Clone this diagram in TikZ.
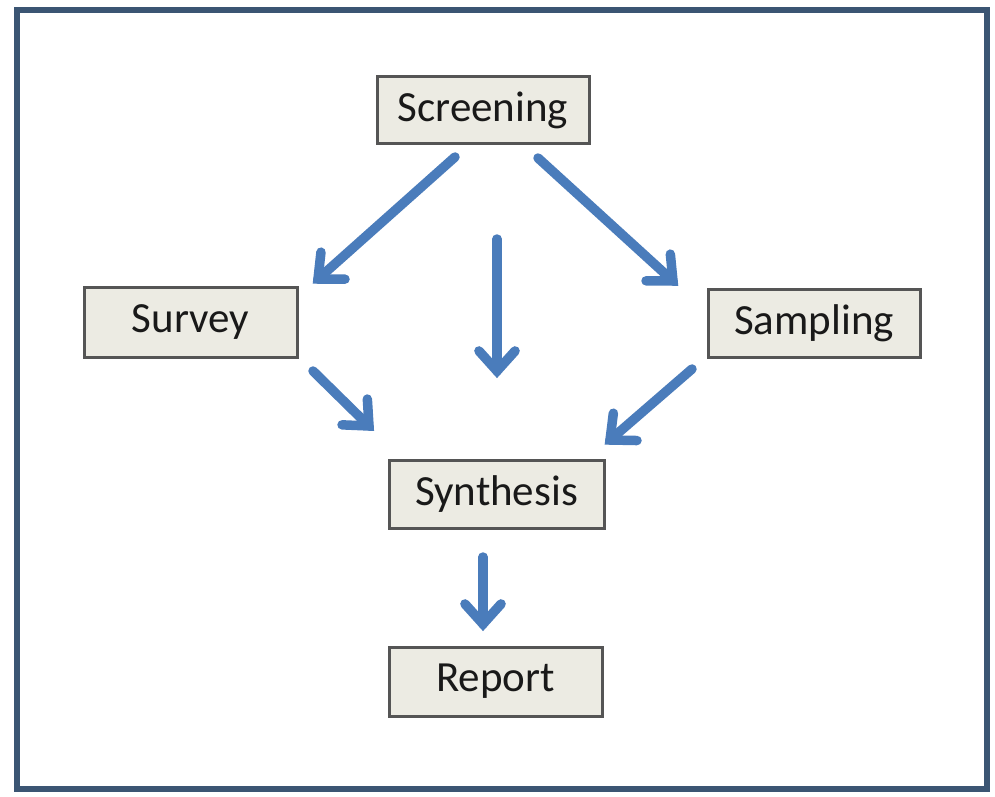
\documentclass[tikz,border=0pt]{standalone}
\usepackage{fontspec}
\setmainfont{Carlito}
\usetikzlibrary{calc}
\definecolor{framec}{HTML}{3B5573}
\definecolor{boxfill}{HTML}{ECEBE3}
\definecolor{boxline}{HTML}{555555}
\definecolor{arrowc}{HTML}{4A7CBB}
\newcommand{\flowarrow}[2]{%
  \draw[flow] (#1) -- (#2);
  \draw[flowhead] ($(#2)!27pt!-42:(#1)$) -- (#2) -- ($(#2)!27pt!42:(#1)$);}
\begin{document}
\begin{tikzpicture}[x=1pt,y=-1pt,
  stepbox/.style={draw=boxline,line width=3pt,fill=boxfill,inner sep=0pt,
     font=\fontsize{43}{50}\selectfont,text=black!90},
  flow/.style={draw=arrowc,line width=9.5pt,line cap=round},
  flowhead/.style={draw=arrowc,line width=9.5pt,line cap=round,line join=miter,miter limit=4}]
\useasboundingbox (0,0) rectangle (995,797);
\fill[white] (0,0) rectangle (995,797);
\draw[framec,line width=6pt] (17,10) rectangle (987,789);
% boxes
\node[stepbox,minimum width=212pt,minimum height=67pt] (scr) at (483,110) {Screening};
\node[stepbox,minimum width=213pt,minimum height=70pt] (sur) at (190.5,322) {Survey};
\node[stepbox,minimum width=212pt,minimum height=68pt] (sam) at (814,323) {Sampling};
\node[stepbox,minimum width=215pt,minimum height=68pt] (syn) at (496.5,494) {Synthesis};
\node[stepbox,minimum width=213pt,minimum height=69pt] (rep) at (495.5,681.5) {Report};
% arrow endpoints
\coordinate (a1s) at (455,157); \coordinate (a1e) at (318,279);
\coordinate (a2s) at (538,158); \coordinate (a2e) at (673,281);
\coordinate (a3s) at (497,239); \coordinate (a3e) at (497,371);
\coordinate (a4s) at (313,371); \coordinate (a4e) at (369,426);
\coordinate (a5s) at (692,369); \coordinate (a5e) at (610,440);
\coordinate (a6s) at (483,557); \coordinate (a6e) at (483,624);
\flowarrow{a1s}{a1e}
\flowarrow{a2s}{a2e}
\flowarrow{a3s}{a3e}
\flowarrow{a4s}{a4e}
\flowarrow{a5s}{a5e}
\flowarrow{a6s}{a6e}
\end{tikzpicture}
\end{document}
